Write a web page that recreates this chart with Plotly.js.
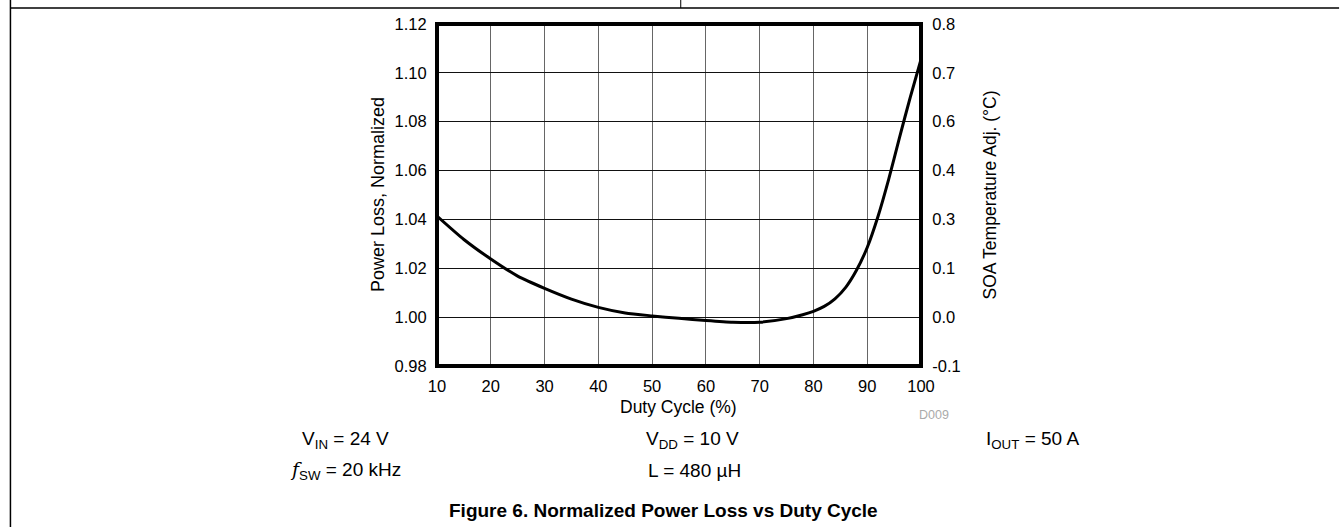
<!DOCTYPE html>
<html><head><meta charset="utf-8">
<script src="https://cdn.plot.ly/plotly-3.0.1.min.js"></script>
<style>html,body{margin:0;padding:0;background:#fff}#chart{width:1340px;height:527px}</style>
</head><body><div id="chart"></div>
<script>
// ---- data ----
const dutyCycle = [10,15,20,25,30,35,40,45,50,55,60,65,70,75,78,80,82,84,86,88,90,92,94,96,98,100];
const powerLossNorm = [1.0414,1.0318,1.0238,1.0168,1.0118,1.0074,1.0040,1.0017,1.0005,0.9995,0.9986,0.9979,0.9979,0.9994,1.0010,1.0024,1.0044,1.0075,1.0122,1.0192,1.0285,1.0412,1.0565,1.0735,1.0900,1.1055];
const xTickVals = [10,20,30,40,50,60,70,80,90,100];
const leftTickVals = [0.98,1.00,1.02,1.04,1.06,1.08,1.10,1.12];
const leftTickText = ['0.98','1.00','1.02','1.04','1.06','1.08','1.10','1.12'];
const rightTickText = ['-0.1','0.0','0.1','0.3','0.4','0.6','0.7','0.8'];
const xTitle = 'Duty Cycle (%)';
const yTitle = 'Power Loss, Normalized';
const y2Title = 'SOA Temperature Adj. (°C)';
const figTitle = '<b>Figure 6. Normalized Power Loss vs Duty Cycle</b>';
const conditions = [
  {t:'V<sub>IN</sub> = 24 V', x:345, y:440},
  {t:'<span style="font-family:DejaVu Serif"><i>f</i></span><sub>SW</sub> = 20 kHz', x:345, y:470},
  {t:'V<sub>DD</sub> = 10 V', x:693, y:440},
  {t:'L = 480 µH', x:695, y:470},
  {t:'I<sub>OUT</sub> = 50 A', x:1033, y:440}
];

// ---- layout geometry (pixels) ----
const W = 1340, H = 527;
const PL = 437, PR = 921.5, PT = 24, PB = 366;
const px = x => (x - PL) / (PR - PL);
const py = y => (PB - y) / (PB - PT);
const FONT = 'Liberation Sans, Arial, sans-serif';

const traces = [
  {x: dutyCycle, y: powerLossNorm, type:'scatter', mode:'lines',
   line:{color:'#000', width:3, shape:'spline', smoothing:0.6}, hoverinfo:'skip', cliponaxis:true},
  {x: dutyCycle, y: powerLossNorm, type:'scatter', mode:'lines', yaxis:'y2',
   line:{color:'rgba(0,0,0,0)', width:0}, hoverinfo:'skip'}
];

const annotations = [
  {text:yTitle, x:px(378), y:py(195), textangle:-90, font:{size:18}},
  {text:y2Title, x:px(991), y:py(195), textangle:-90, font:{size:17.5}},
  {text:xTitle, x:px(679), y:py(407), font:{size:17.5}},
  {text:'D009', x:px(935), y:py(415), font:{size:12.5, color:'#aaaaaa'}},
  {text:figTitle, x:px(664), y:py(510), font:{size:19}}
].concat(conditions.map(c => ({text:c.t, x:px(c.x), y:py(c.y), font:{size:19}})));
annotations.forEach(a => {
  a.xref = 'paper'; a.yref = 'paper'; a.showarrow = false;
  a.xanchor = 'center'; a.yanchor = 'middle';
  a.font = Object.assign({family:FONT, color:'#000'}, a.font);
});

const shapes = [
  {type:'rect', xref:'paper', yref:'paper', x0:0, x1:1, y0:0, y1:1, line:{color:'#000', width:4}, layer:'above'},
  {type:'line', xref:'paper', yref:'paper', x0:px(10), x1:px(1340), y0:py(8), y1:py(8), line:{color:'#000', width:1.5}},
  {type:'line', xref:'paper', yref:'paper', x0:px(10), x1:px(10), y0:py(0), y1:py(527), line:{color:'#000', width:1.5}},
  {type:'line', xref:'paper', yref:'paper', x0:px(681), x1:px(681), y0:py(0), y1:py(8), line:{color:'#000', width:1}}
];

const layout = {
  width:W, height:H,
  margin:{l:PL, r:W-PR, t:PT, b:H-PB, pad:0},
  paper_bgcolor:'#fff', plot_bgcolor:'#fff',
  showlegend:false,
  font:{family:FONT, color:'#000', size:16.5},
  xaxis:{range:[10,100], tickvals:xTickVals, ticktext:xTickVals.map(String),
    showgrid:true, gridcolor:'#666', gridwidth:1, zeroline:false, showline:false,
    ticks:'outside', ticklen:5, tickcolor:'rgba(0,0,0,0)', tickfont:{size:16.5}, fixedrange:true},
  yaxis:{range:[0.98,1.12], tickvals:leftTickVals, ticktext:leftTickText,
    showgrid:true, gridcolor:'#111', gridwidth:1, zeroline:false, showline:false,
    ticks:'outside', ticklen:6, tickcolor:'rgba(0,0,0,0)', tickfont:{size:16.5}, fixedrange:true},
  yaxis2:{range:[0.98,1.12], overlaying:'y', side:'right', tickvals:leftTickVals, ticktext:rightTickText,
    showgrid:false, zeroline:false, showline:false,
    ticks:'outside', ticklen:7, tickcolor:'rgba(0,0,0,0)', tickfont:{size:16.5}, fixedrange:true},
  annotations:annotations,
  shapes:shapes
};

Plotly.newPlot('chart', traces, layout, {staticPlot:true, displayModeBar:false});
</script>
</body></html>
